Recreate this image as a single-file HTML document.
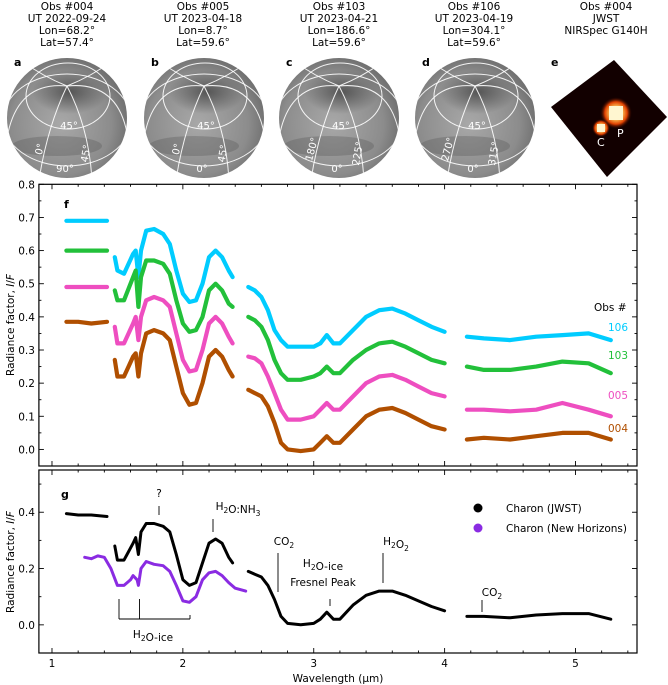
<!DOCTYPE html>
<html><head><meta charset="utf-8">
<style>
html,body{margin:0;padding:0;background:#fff;}
svg{display:block;font-family:"DejaVu Sans","Liberation Sans",sans-serif;}
</style></head>
<body>
<svg id="fig" width="668" height="685" viewBox="0 0 668 685" xmlns="http://www.w3.org/2000/svg">
<defs>
  <radialGradient id="sph" cx="45%" cy="55%" r="60%">
    <stop offset="0" stop-color="#a8a8a8"/>
    <stop offset="0.7" stop-color="#8c8c8c"/>
    <stop offset="1" stop-color="#6a6a6a"/>
  </radialGradient>
  <radialGradient id="dark" cx="50%" cy="50%" r="50%">
    <stop offset="0" stop-color="#3a3a3a" stop-opacity="0.7"/>
    <stop offset="1" stop-color="#3a3a3a" stop-opacity="0"/>
  </radialGradient>
  <radialGradient id="glowP" cx="50%" cy="50%" r="50%">
    <stop offset="0" stop-color="#ffffff"/>
    <stop offset="0.35" stop-color="#ffd060"/>
    <stop offset="0.7" stop-color="#e04000"/>
    <stop offset="1" stop-color="#200000" stop-opacity="0"/>
  </radialGradient>
</defs>
<g id="headers"></g>
<g id="spheres"></g>
<g id="jwst">
  <polygon points="614,60 667,117 607,177 551,107" fill="#120000"/>
  <circle cx="616" cy="113" r="16" fill="url(#glowP)"/>
  <rect x="609" y="106" width="14" height="14" fill="#fff6d0"/>
  <circle cx="601" cy="128" r="9" fill="url(#glowP)"/>
  <rect x="597" y="124" width="8" height="8" fill="#fff6d0"/>
  <text x="617" y="137" font-size="11" fill="#fff">P</text>
  <text x="597" y="146" font-size="11" fill="#fff">C</text>
  <text x="551" y="66" font-size="11" font-weight="bold">e</text>
</g>
<g id="panelF"></g>
<g id="panelG"></g>
</svg>
<script>
const NS="http://www.w3.org/2000/svg";
function mk(parent,tag,attrs,text){const e=document.createElementNS(NS,tag);for(const k in attrs)e.setAttribute(k,attrs[k]);if(text!==undefined)e.textContent=text;parent.appendChild(e);return e;}

// ---------------- DATA ----------------
const wl1=[1.11,1.2,1.3,1.42];
const wl2=[1.48,1.5,1.55,1.62,1.64,1.66,1.68,1.72,1.78,1.85,1.9,1.95,2.0,2.05,2.1,2.15,2.2,2.25,2.3,2.35,2.38];
const wl3=[2.5,2.55,2.6,2.65,2.7,2.75,2.8,2.9,3.0,3.05,3.1,3.15,3.2,3.3,3.4,3.5,3.6,3.7,3.8,3.9,4.0];
const wl4=[4.17,4.3,4.5,4.7,4.9,5.1,5.27];

const obs106=[[0.69,0.69,0.69,0.69],
 [0.58,0.54,0.53,0.59,0.60,0.52,0.60,0.66,0.665,0.65,0.62,0.54,0.47,0.445,0.45,0.50,0.58,0.60,0.58,0.54,0.52],
 [0.49,0.48,0.46,0.42,0.36,0.33,0.31,0.31,0.31,0.32,0.345,0.32,0.32,0.36,0.40,0.42,0.425,0.41,0.39,0.37,0.355],
 [0.34,0.335,0.33,0.34,0.345,0.35,0.33]];
const obs103=[[0.60,0.60,0.60,0.60],
 [0.48,0.45,0.45,0.52,0.54,0.43,0.52,0.57,0.57,0.56,0.53,0.45,0.38,0.355,0.36,0.40,0.48,0.50,0.48,0.44,0.43],
 [0.40,0.39,0.37,0.33,0.27,0.23,0.21,0.21,0.22,0.23,0.25,0.23,0.23,0.27,0.30,0.32,0.325,0.31,0.29,0.27,0.26],
 [0.25,0.24,0.24,0.25,0.265,0.26,0.23]];
const obs005=[[0.49,0.49,0.49,0.49],
 [0.37,0.32,0.32,0.38,0.40,0.33,0.40,0.45,0.46,0.45,0.43,0.35,0.27,0.235,0.24,0.30,0.38,0.40,0.38,0.34,0.32],
 [0.28,0.275,0.26,0.22,0.17,0.12,0.09,0.09,0.10,0.12,0.14,0.12,0.12,0.16,0.20,0.22,0.225,0.21,0.19,0.17,0.16],
 [0.12,0.12,0.115,0.12,0.14,0.12,0.10]];
const obs004=[[0.385,0.385,0.38,0.385],
 [0.27,0.22,0.22,0.28,0.29,0.22,0.29,0.35,0.36,0.35,0.33,0.25,0.17,0.135,0.14,0.20,0.28,0.30,0.28,0.24,0.22],
 [0.18,0.17,0.16,0.13,0.08,0.02,0.0,-0.005,0.0,0.02,0.04,0.02,0.02,0.06,0.10,0.12,0.125,0.11,0.09,0.07,0.06],
 [0.03,0.035,0.03,0.04,0.05,0.05,0.03]];
const jwst=[[0.395,0.39,0.39,0.385],
 [0.28,0.23,0.23,0.29,0.31,0.25,0.33,0.36,0.36,0.35,0.33,0.25,0.16,0.14,0.15,0.22,0.29,0.305,0.29,0.24,0.22],
 [0.19,0.18,0.17,0.14,0.09,0.03,0.005,0.0,0.005,0.02,0.045,0.02,0.02,0.07,0.105,0.12,0.12,0.105,0.085,0.065,0.05],
 [0.03,0.03,0.025,0.035,0.04,0.04,0.02]];
const nhWl=[1.25,1.3,1.35,1.4,1.45,1.5,1.55,1.6,1.62,1.65,1.66,1.68,1.72,1.78,1.85,1.9,1.95,2.0,2.05,2.1,2.15,2.2,2.25,2.3,2.35,2.4,2.48];
const nhVal=[0.24,0.235,0.245,0.24,0.2,0.14,0.14,0.16,0.175,0.16,0.14,0.2,0.225,0.215,0.21,0.19,0.14,0.085,0.08,0.1,0.16,0.185,0.19,0.175,0.15,0.13,0.12];

const xTicks=[1,2,3,4,5];
const fYTicks=["0.0","0.1","0.2","0.3","0.4","0.5","0.6","0.7","0.8"];
const gYTicks=["0.0","0.2","0.4"];
const obsNames=["106","103","005","004"];

// ---------------- AXES ----------------
const X0=0.9,X1=5.47,PL=38.9,PR=637;
function xs(v){return PL+(v-X0)/(X1-X0)*(PR-PL);}
const F={top:184.3,bot:466,y0:-0.05,y1:0.8};
const G={top:470,bot:653,y0:-0.1,y1:0.55};
function ys(ax,v){return ax.bot-(v-ax.y0)/(ax.y1-ax.y0)*(ax.bot-ax.top);}

function drawFrame(g,ax,yMajor,yMinorStep,labels,labelX){
  const fr=mk(g,'rect',{x:PL,y:ax.top,width:PR-PL,height:ax.bot-ax.top,fill:'none',stroke:'#000','stroke-width':1.2});
  
  
  // x ticks
  for(let v=1.0;v<=5.41;v=Math.round((v+0.2)*10)/10){
    const major=Math.abs(v-Math.round(v))<1e-6;
    const L=major?5:2.5;
    mk(g,'line',{x1:xs(v),x2:xs(v),y1:ax.bot,y2:ax.bot-L,stroke:'#000','stroke-width':0.9});
    mk(g,'line',{x1:xs(v),x2:xs(v),y1:ax.top,y2:ax.top+L,stroke:'#000','stroke-width':0.9});
  }
  // y ticks
  for(let v=Math.ceil(ax.y0/yMinorStep)*yMinorStep;v<=ax.y1+1e-6;v+=yMinorStep){
    const vv=Math.round(v*1000)/1000;
    const major=yMajor.some(t=>Math.abs(parseFloat(t)-vv)<1e-6);
    const L=major?5:2.5;const y=ys(ax,vv);
    mk(g,'line',{x1:PL,x2:PL+L,y1:y,y2:y,stroke:'#000','stroke-width':0.9});
    mk(g,'line',{x1:PR,x2:PR-L,y1:y,y2:y,stroke:'#000','stroke-width':0.9});
  }
  yMajor.forEach(t=>{
    const tl=mk(g,'text',{x:PL-4,y:ys(ax,parseFloat(t))+4,'font-size':10.5,'text-anchor':'end'},t);
    
    
  });
}

function drawSeries(g,wls,vals,ax,color,w,name){
  wls.forEach((wl,si)=>{
    const pts=wl.map((v,i)=>xs(v).toFixed(1)+','+ys(ax,vals[si][i]).toFixed(1)).join(' ');
    const p=mk(g,'polyline',{points:pts,fill:'none',stroke:color,'stroke-width':w,'stroke-linejoin':'round','stroke-linecap':'round'});
    
    
  });
}

// Panel f
const gf=document.getElementById('panelF');
drawFrame(gf,F,fYTicks,0.05);
const segWl=[wl1,wl2,wl3,wl4];
const fColors=['#00ccff','#22c03a','#ee4ec0','#b04f00'];
[obs106,obs103,obs005,obs004].forEach((s,i)=>drawSeries(gf,segWl,s,F,fColors[i],4.2,'obs-'+obsNames[i]));
let t=mk(gf,'text',{x:64,y:208,'font-size':11,'font-weight':'bold'},'f');

t=mk(gf,'text',{x:594,y:311,'font-size':10.5},'Obs #');

const obsLabY=[331,359,399,432];
obsNames.forEach((n,i)=>{
  const e=mk(gf,'text',{x:608,y:obsLabY[i],'font-size':10.5,fill:fColors[i]},n);
  
  
});
t=mk(gf,'text',{x:0,y:0,'font-size':10.5,transform:'translate(14,325) rotate(-90)','text-anchor':'middle'});
t.innerHTML='Radiance factor, <tspan font-style="italic">I</tspan>/<tspan font-style="italic">F</tspan>';


// Panel g
const gg=document.getElementById('panelG');
drawFrame(gg,G,gYTicks,0.1);
drawSeries(gg,segWl,jwst,G,'#000',3,'charon-jwst');
drawSeries(gg,[nhWl],[nhVal],G,'#8a2be2',3,'charon-new-horizons');
xTicks.forEach(v=>{
  const e=mk(gg,'text',{x:xs(v),y:667,'font-size':10.5,'text-anchor':'middle'},String(v));
  
  
});
t=mk(gg,'text',{x:338,y:682,'font-size':10.5,'text-anchor':'middle'},'Wavelength (µm)');

t=mk(gg,'text',{x:0,y:0,'font-size':10.5,transform:'translate(14,562) rotate(-90)','text-anchor':'middle'});
t.innerHTML='Radiance factor, <tspan font-style="italic">I</tspan>/<tspan font-style="italic">F</tspan>';

t=mk(gg,'text',{x:61,y:498,'font-size':11,'font-weight':'bold'},'g');

// legend
let c=mk(gg,'circle',{cx:478,cy:508,r:4.5,fill:'#000'});

t=mk(gg,'text',{x:506,y:512,'font-size':10.5},'Charon (JWST)');

c=mk(gg,'circle',{cx:478,cy:528,r:4.5,fill:'#8a2be2'});

t=mk(gg,'text',{x:506,y:532,'font-size':10.5},'Charon (New Horizons)');

// annotations
function ann(name,html,x,y,lines){
  const a=mk(gg,'g',{});
  
  
  const tx=mk(a,'text',{x:x,y:y,'font-size':10.5,'text-anchor':'middle'});tx.innerHTML=html;
  lines.forEach(l=>mk(a,'line',{x1:l[0],y1:l[1],x2:l[2],y2:l[3],stroke:'#000','stroke-width':0.9}));
}
const sub='<tspan font-size="7.5" dy="3">2</tspan><tspan dy="-3"></tspan>';
const sub3='<tspan font-size="7.5" dy="3">3</tspan><tspan dy="-3"></tspan>';
ann('annotation-unknown','?',159,497,[[159,506,159,515]]);
ann('annotation-h2o-nh3','H'+sub+'O:NH'+sub3,238,510,[[213,519,213,532]]);
ann('annotation-co2-27','CO'+sub,284,545,[[278,553,278,592]]);
ann('annotation-fresnel','H'+sub+'O-ice',323,567,[[330,599,330,606]]);
ann('annotation-fresnel-2','Fresnel Peak',323,586,[]);
ann('annotation-h2o2','H'+sub+'O'+sub,396,545,[[383,553,383,583]]);
ann('annotation-co2-42','CO'+sub,492,596,[[482,600,482,612]]);
ann('annotation-h2o-ice-bracket','H'+sub+'O-ice',153,638,[[119,599,119,619],[139.5,599,139.5,619],[119,619,190,619],[190,619,190,615]]);

// ---------------- HEADERS & SPHERES ----------------
const headerX=[67,203,339,474,606];
const headerLines=[
 ['Obs #004','UT 2022-09-24','Lon=68.2°','Lat=57.4°'],
 ['Obs #005','UT 2023-04-18','Lon=8.7°','Lat=59.6°'],
 ['Obs #103','UT 2023-04-21','Lon=186.6°','Lat=59.6°'],
 ['Obs #106','UT 2023-04-19','Lon=304.1°','Lat=59.6°'],
 ['Obs #004','JWST','NIRSpec G140H']];
const hg=document.getElementById('headers');
headerLines.forEach((ls,i)=>{
  const g=mk(hg,'g',{});
  
  
  ls.forEach((l,j)=>mk(g,'text',{x:headerX[i],y:10+j*12,'font-size':10.5,'text-anchor':'middle'},l));
});
const sg=document.getElementById('spheres');
const lonLabels=[['0°','45°','90°'],['0°','45°','0°'],['180°','225°','0°'],['270°','315°','0°']];
[67,204,339,475].forEach((cx,i)=>{
  const cy=118,r=60;
  const g=mk(sg,'g',{});
  
  
  const cp=mk(g,'clipPath',{id:'cp'+i});mk(cp,'circle',{cx:cx,cy:cy,r:r});
  mk(g,'circle',{cx:cx,cy:cy,r:r,fill:'url(#sph)'});
  const inner=mk(g,'g',{'clip-path':'url(#cp'+i+')'});
  mk(inner,'ellipse',{cx:cx+3,cy:cy-26,rx:38,ry:22,fill:'url(#dark)'});
  mk(inner,'ellipse',{cx:cx-10,cy:cy+28,rx:45,ry:10,fill:'#5a5a5a',opacity:0.35});
  const px=cx,py=86;
  const ws={stroke:'#fff','stroke-width':1,fill:'none',opacity:0.9};
  mk(inner,'ellipse',Object.assign({cx:cx+1,cy:cy-22,rx:42,ry:33},ws));
  mk(inner,'ellipse',Object.assign({cx:cx,cy:cy+2,rx:64,ry:46},ws));
  [[cx-60,cy+20,cx-50,py-5],[cx+60,cy+15,cx+50,py-5],[cx-28,cy+62,cx-20,cy+10],[cx+25,cy+62,cx+22,cy+10],[cx-45,py-25,cx-25,py-10],[cx+45,py-25,cx+25,py-10]].forEach(m=>{
    mk(inner,'path',Object.assign({d:'M'+px+','+py+' Q'+m[2]+','+m[3]+' '+m[0]+','+m[1]},ws));
  });
  mk(g,'text',{x:cx+2,y:cy+11,'font-size':10,fill:'#fff','text-anchor':'middle'},'45°');
  mk(g,'text',{x:cx-2,y:cy+54,'font-size':10,fill:'#fff','text-anchor':'middle'},lonLabels[i][2]);
  mk(g,'text',{x:0,y:0,'font-size':10,fill:'#fff','text-anchor':'middle',transform:'translate('+(cx-24)+','+(cy+32)+') rotate(-75)'},lonLabels[i][0]);
  mk(g,'text',{x:0,y:0,'font-size':10,fill:'#fff','text-anchor':'middle',transform:'translate('+(cx+22)+','+(cy+36)+') rotate(-80)'},lonLabels[i][1]);
  const pl=mk(g,'text',{x:cx-53,y:66,'font-size':11,'font-weight':'bold',fill:'#000'},'abcd'[i]);
  
  
});
</script>
</body></html>
